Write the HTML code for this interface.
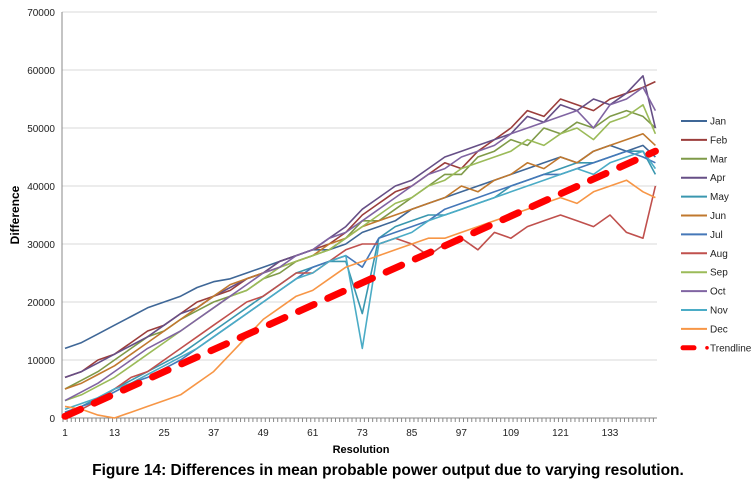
<!DOCTYPE html>
<html><head><meta charset="utf-8"><style>
body{margin:0;background:#fff;width:753px;height:489px;overflow:hidden;font-family:"Liberation Sans",Arial,sans-serif}
svg text{font-family:"Liberation Sans",Arial,sans-serif}
</style></head><body>
<svg id="chart" width="753" height="489"></svg>
<script>
const categories=[1,5,9,13,17,21,25,29,33,37,41,45,49,53,57,61,65,69,73,77,81,85,89,93,97,101,105,109,113,117,121,125,129,133,137,141,144];
const seriesNames=["Jan","Feb","Mar","Apr","May","Jun","Jul","Aug","Sep","Oct","Nov","Dec"];
const seriesColors=["#3F6797","#9B3D3B","#7F9A48","#664F86","#3A97AF","#C0782E","#4577B8","#C0504D","#9BBB59","#8064A2","#4BACC6","#F79646"];
const jan=[12,13,14.5,16,17.5,19,20,21,22.5,23.5,24,25,26,27,28,29,29,30,32,33,34,36,37,38,39,40,41,42,43,44,45,44,46,47,46,47,45];
const feb=[7,8,10,11,13,15,16,18,20,21,22,24,25,27,28,29,30,32,35,37,39,40,42,44,43,46,48,50,53,52,55,54,53,55,56,57,58];
const mar=[5,6.5,8,10,12,14,15,17,18.5,20,21,22,24,25,27,28,29,31,34,34,36,38,40,42,42,45,46,48,47,50,49,51,50,52,53,52,50];
const apr=[7,8,9.5,11,12.5,14,16,18,19,21,22.5,24,25,27,28,29,31,33,36,38,40,41,43,45,46,47,48,49,52,51,54,53,55,54,56,59,50];
const may=[1,2,3.5,5,6.5,8,9.5,11,13,15,17,19,21,23,25,26,27,27,18,31,33,34,35,35,36,37,38,40,41,42,43,44,44,45,46,46,42];
const jun=[5,6,7.5,9,11,13,15,17,19,21,23,24,25,26,27,28,30,31,33,34,35,36,37,38,40,39,41,42,44,43,45,44,46,47,48,49,47];
const jul=[1,2,3,4.5,6,7,8.5,10,12,14,16,18,20,22,24,26,27,28,26,31,32,33,34,36,37,38,39,40,41,42,42,43,44,45,46,45,44];
const aug=[0.5,1.5,3,5,7,8,10,12,14,16,18,20,21,23,25,25,27,29,30,30,31,30,28,30,31,29,32,31,33,34,35,34,33,35,32,31,40];
const sep=[3,4,5.5,7,9,11,13,15,17,19,21,22,24,26,27,28,29,31,33,35,37,38,40,41,43,44,45,46,48,47,49,50,48,51,52,54,49];
const oct=[3,4.5,6,8,10,12,13.5,15,17,19,21,23,25,26,28,29,31,32,34,36,38,40,42,43,45,46,47,49,50,51,52,53,50,54,55,57,53];
const nov=[1.5,2.5,3.5,5,6,7.5,9,10.5,12,14,16,18,20,22,24,25,27,28,12,30,31,32,34,35,36,37,38,39,40,41,42,43,42,44,45,46,43];
const dec=[2,1.5,0.5,0,1,2,3,4,6,8,11,14,17,19,21,22,24,26,27,28,29,30,31,31,32,33,34,35,36,37,38,37,39,40,41,39,38];
const seriesValues=[jan,feb,mar,apr,may,jun,jul,aug,sep,oct,nov,dec];
const trendX=[1,144];
const trendValues=[0.3,46];
const yTicks=[0,10000,20000,30000,40000,50000,60000,70000];
const xTickLabels=[1,13,25,37,49,61,73,85,97,109,121,133];

const NS="http://www.w3.org/2000/svg";
const svg=document.getElementById("chart");
const L=62,R=657,T=12,B=418;
function xs(i){return 65+(i-1)*(610-65)/132;}
function ys(v){return B-(v/70000)*(B-T);}
function mk(tag,attrs,parent){const e=document.createElementNS(NS,tag);for(const k in attrs)e.setAttribute(k,attrs[k]);(parent||svg).appendChild(e);return e;}

const grid=mk("g",{});


yTicks.forEach(v=>{
  if(v>0){mk("line",{x1:L,x2:R,y1:ys(v),y2:ys(v),stroke:"#d9d9d9","stroke-width":1},grid);}
  const t=mk("text",{x:55,y:ys(v)+4,"text-anchor":"end","font-size":10,fill:"#222"});
  t.textContent=v;
  
  
});
const axes=mk("g",{});


mk("line",{x1:L,x2:L,y1:T,y2:B,stroke:"#888"},axes);
mk("line",{x1:L,x2:R,y1:B,y2:B,stroke:"#888"},axes);
for(let i=1;i<=144;i++){mk("line",{x1:xs(i)-2,x2:xs(i)-2,y1:B,y2:B+4,stroke:"#888"},axes);}
xTickLabels.forEach(c=>{
  const t=mk("text",{x:xs(c),y:436,"text-anchor":"middle","font-size":10,fill:"#222"});
  t.textContent=c;
  
  
});
seriesValues.forEach((vals,s)=>{
  const d=vals.map((v,i)=>(i?"L":"M")+xs(categories[i]).toFixed(1)+","+ys(v*1000).toFixed(1)).join(" ");
  const p=mk("path",{d:d,fill:"none",stroke:seriesColors[s],"stroke-width":1.6,"stroke-linejoin":"round"});
  
  
});
const tr=mk("line",{x1:xs(trendX[0]),y1:ys(trendValues[0]*1000),x2:xs(trendX[1]),y2:ys(trendValues[1]*1000),stroke:"#ff0000","stroke-width":7,"stroke-dasharray":"17 15","stroke-linecap":"round"});



const names=seriesNames.concat(["Trendline"]);
names.forEach((n,i)=>{
  const y=121+i*18.9;
  const g=mk("g",{});
  
  
  if(i<12){mk("line",{x1:681,x2:707,y1:y,y2:y,stroke:seriesColors[i],"stroke-width":2},g);}
  else{mk("line",{x1:683,x2:694,y1:y,y2:y,stroke:"#ff0000","stroke-width":5,"stroke-linecap":"round"},g);mk("circle",{cx:707,cy:y,r:1.8,fill:"#ff0000"},g);}
  const t=mk("text",{x:710,y:y+3.5,"font-size":10,fill:"#222"},g);
  t.textContent=n;
});
const yt=mk("text",{x:0,y:0,"font-size":12,"font-weight":"bold","text-anchor":"middle",transform:"translate(19,215) rotate(-90)",fill:"#000"});
yt.textContent="Difference";


const xt=mk("text",{x:361,y:453,"font-size":11,"font-weight":"bold","text-anchor":"middle",fill:"#000"});
xt.textContent="Resolution";


const cap=mk("text",{x:388,y:475,"font-size":15.5,"font-weight":"bold","text-anchor":"middle",fill:"#000"});
cap.textContent="Figure 14: Differences in mean probable power output due to varying resolution.";


</script>
</body></html>
